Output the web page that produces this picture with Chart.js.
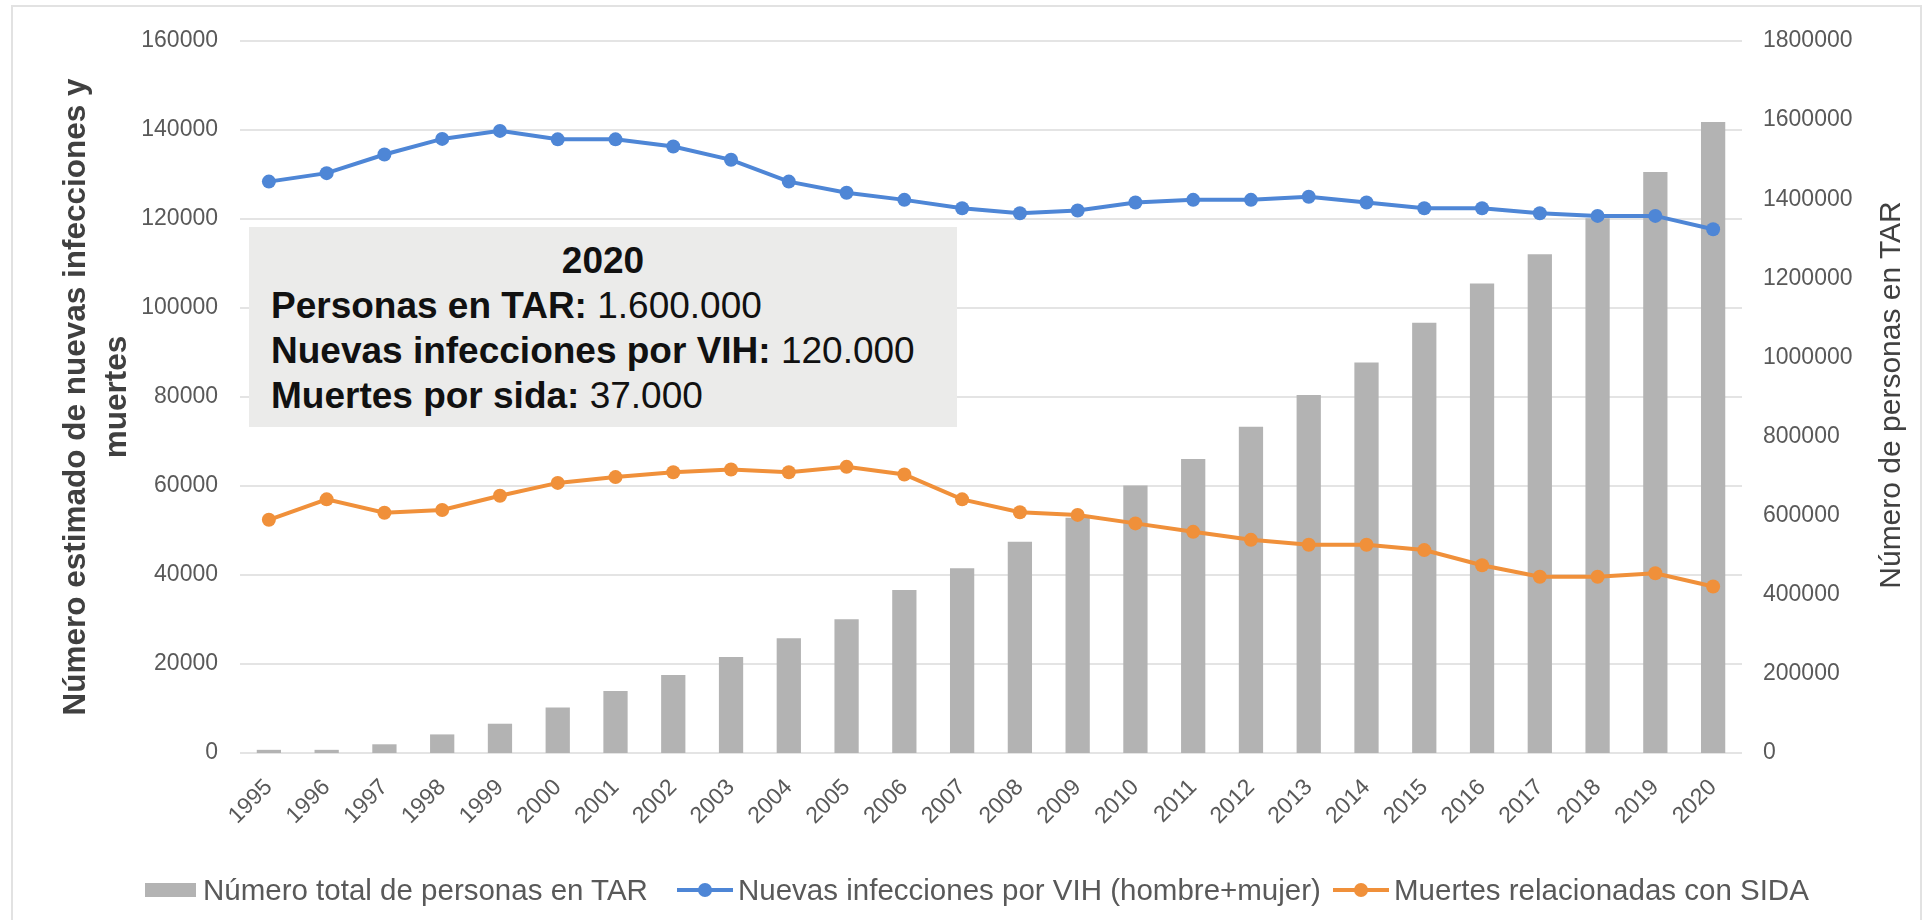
<!DOCTYPE html>
<html lang="es">
<head>
<meta charset="utf-8">
<title>TAR, nuevas infecciones y muertes</title>
<script src="https://cdn.jsdelivr.net/npm/chart.js@4/dist/chart.umd.min.js"></script>
<style>
    body { margin: 0; background: #fff; font-family: "Liberation Sans", Arial, sans-serif; }
    #wrap { position: relative; width: 1931px; height: 920px; overflow: hidden; }
    #frame { position: absolute; left: 11px; top: 5px; width: 1911px; height: 1000px; border: 2px solid #e2e2e2; box-sizing: border-box; }
    canvas { position: absolute; left: 0; top: 0; }
    #note {
        position: absolute; left: 249px; top: 227px; width: 708px; height: 200px;
        background: #ebebea; box-sizing: border-box; padding: 11px 0 0 22px;
        font-size: 37px; line-height: 45px; color: #111;
    }
    #note .yr { font-weight: bold; text-align: center; padding-right: 22px; }
    #note b { font-weight: bold; }
    #rightTitle {
        position: absolute; left: 1640px; top: 377px; width: 500px; height: 36px; line-height: 36px;
        text-align: center; font-size: 30px; color: #404040; white-space: nowrap;
        transform: rotate(-90deg); transform-origin: 50% 50%;
    }
    .leg { position: absolute; top: 872px; height: 36px; display: flex; align-items: center; font-size: 29.5px; color: #595959; white-space: nowrap; }
    .sym { position: relative; height: 14px; margin-right: 5px; }
    .sym .ln { position: absolute; left: 0; right: 0; top: 5px; height: 4px; }
    .sym .dot { position: absolute; left: 50%; top: 0; width: 14px; height: 14px; margin-left: -7px; border-radius: 50%; }
</style>
</head>
<body>
<div id="wrap">
    <div id="frame"></div>
    <canvas id="chart" width="1931" height="920"></canvas>
    <div id="note">
        <div class="yr">2020</div>
        <div><b>Personas en TAR:</b> 1.600.000</div>
        <div><b>Nuevas infecciones por VIH:</b> 120.000</div>
        <div><b>Muertes por sida:</b> 37.000</div>
    </div>
    <div id="rightTitle">Número de personas en TAR</div>
    <div id="legend"></div>
</div>
<script>
const years = ['1995', '1996', '1997', '1998', '1999', '2000', '2001', '2002', '2003', '2004', '2005', '2006', '2007',
    '2008', '2009', '2010', '2011', '2012', '2013', '2014', '2015', '2016', '2017', '2018', '2019', '2020'];

// personas en TAR (eje derecho)
const personasTAR = [8000, 8000, 22000, 47000, 74000, 115000, 157000, 197000, 243000, 290000, 338000, 412000, 467000,
    534000, 595000, 676000, 743000, 825000, 905000, 987000, 1088000, 1187000, 1261000, 1352000, 1469000, 1595000];

// eje izquierdo
const nuevasInfecciones = [128400, 130300, 134500, 138000, 139800, 137900, 137900, 136300, 133300, 128400, 125900, 124300, 122400,
    121300, 121900, 123700, 124300, 124300, 125000, 123700, 122400, 122400, 121300, 120700, 120700, 117700];
const muertesSida = [52400, 57000, 54000, 54600, 57800, 60700, 62000, 63100, 63700, 63100, 64300, 62600, 57000,
    54100, 53500, 51600, 49700, 47900, 46800, 46800, 45600, 42200, 39600, 39600, 40400, 37400];

const leftTicks = { min: 0, max: 160000, step: 20000 };
const rightTicks = { min: 0, max: 1800000, step: 200000 };

const seriesNames = ['Número total de personas en TAR', 'Nuevas infecciones por VIH (hombre+mujer)', 'Muertes relacionadas con SIDA'];
const colors = { bar: '#b3b3b3', blue: '#4e86d6', orange: '#f0903a' };

const tickFont = { family: 'Liberation Sans', size: 23 };
const tickColor = '#595959';

const chart = new Chart(document.getElementById('chart'), {
    type: 'bar',
    data: {
        labels: years,
        datasets: [
            {
                type: 'line', label: seriesNames[1], data: nuevasInfecciones, yAxisID: 'y', order: 1,
                borderColor: colors.blue, backgroundColor: colors.blue, borderWidth: 4,
                pointRadius: 7, pointBorderWidth: 0, pointBackgroundColor: colors.blue, tension: 0
            },
            {
                type: 'line', label: seriesNames[2], data: muertesSida, yAxisID: 'y', order: 2,
                borderColor: colors.orange, backgroundColor: colors.orange, borderWidth: 4,
                pointRadius: 7, pointBorderWidth: 0, pointBackgroundColor: colors.orange, tension: 0
            },
            {
                type: 'bar', label: seriesNames[0], data: personasTAR, yAxisID: 'y1', order: 3,
                backgroundColor: colors.bar, borderWidth: 0,
                categoryPercentage: 1, barPercentage: 0.42
            }
        ]
    },
    options: {
        responsive: false,
        animation: false,
        layout: { padding: { top: 41, left: 0, right: 0, bottom: 0 } },
        plugins: {
            legend: { display: false },
            tooltip: { enabled: false }
        },
        scales: {
            x: {
                offset: true,
                grid: { display: false, drawTicks: false },
                border: { display: false },
                ticks: { font: tickFont, color: tickColor, maxRotation: 45, minRotation: 45, padding: 21 },
                afterFit: s => { s.height = 167; }
            },
            y: {
                position: 'left',
                min: leftTicks.min, max: leftTicks.max,
                grid: { color: '#e4e4e4', lineWidth: 2, drawTicks: false },
                border: { display: false },
                ticks: { stepSize: leftTicks.step, font: tickFont, color: tickColor, padding: 22, callback: v => String(v) },
                title: {
                    display: true,
                    text: ['Número estimado de nuevas infecciones y', 'muertes'],
                    font: { family: 'Liberation Sans', size: 31.5, weight: 'bold', lineHeight: 1.3 },
                    color: '#404040',
                    padding: { top: 56, bottom: 0 }
                },
                afterFit: s => { s.width = 240; }
            },
            y1: {
                position: 'right',
                min: rightTicks.min, max: rightTicks.max,
                grid: { display: false, drawTicks: false },
                border: { display: false },
                ticks: { stepSize: rightTicks.step, font: tickFont, color: tickColor, padding: 21, callback: v => String(v) },
                // the title reads bottom-to-top here, so it is an html label (#rightTitle)
                title: { display: false },
                afterFit: s => { s.width = 189; }
            }
        }
    }
});

// leyenda en HTML, debajo del eje x
const legendItems = [
    { left: 145, kind: 'box', color: colors.bar, width: 51, text: seriesNames[0] },
    { left: 677, kind: 'line', color: colors.blue, width: 56, text: seriesNames[1] },
    { left: 1333, kind: 'line', color: colors.orange, width: 56, text: seriesNames[2] }
];
const legendDiv = document.getElementById('legend');
legendItems.forEach(item => {
    const div = document.createElement('div');
    div.className = 'leg';
    div.style.left = item.left + 'px';
    const sym = document.createElement('div');
    sym.className = 'sym';
    sym.style.width = item.width + 'px';
    if (item.kind === 'box') {
        sym.style.background = item.color;
        sym.style.marginRight = '7px';
    } else {
        sym.innerHTML = `<div class="ln" style="background:${item.color}"></div><div class="dot" style="background:${item.color}"></div>`;
    }
    const label = document.createElement('span');
    label.textContent = item.text;
    div.appendChild(sym);
    div.appendChild(label);
    legendDiv.appendChild(div);
});
</script>
</body>
</html>
